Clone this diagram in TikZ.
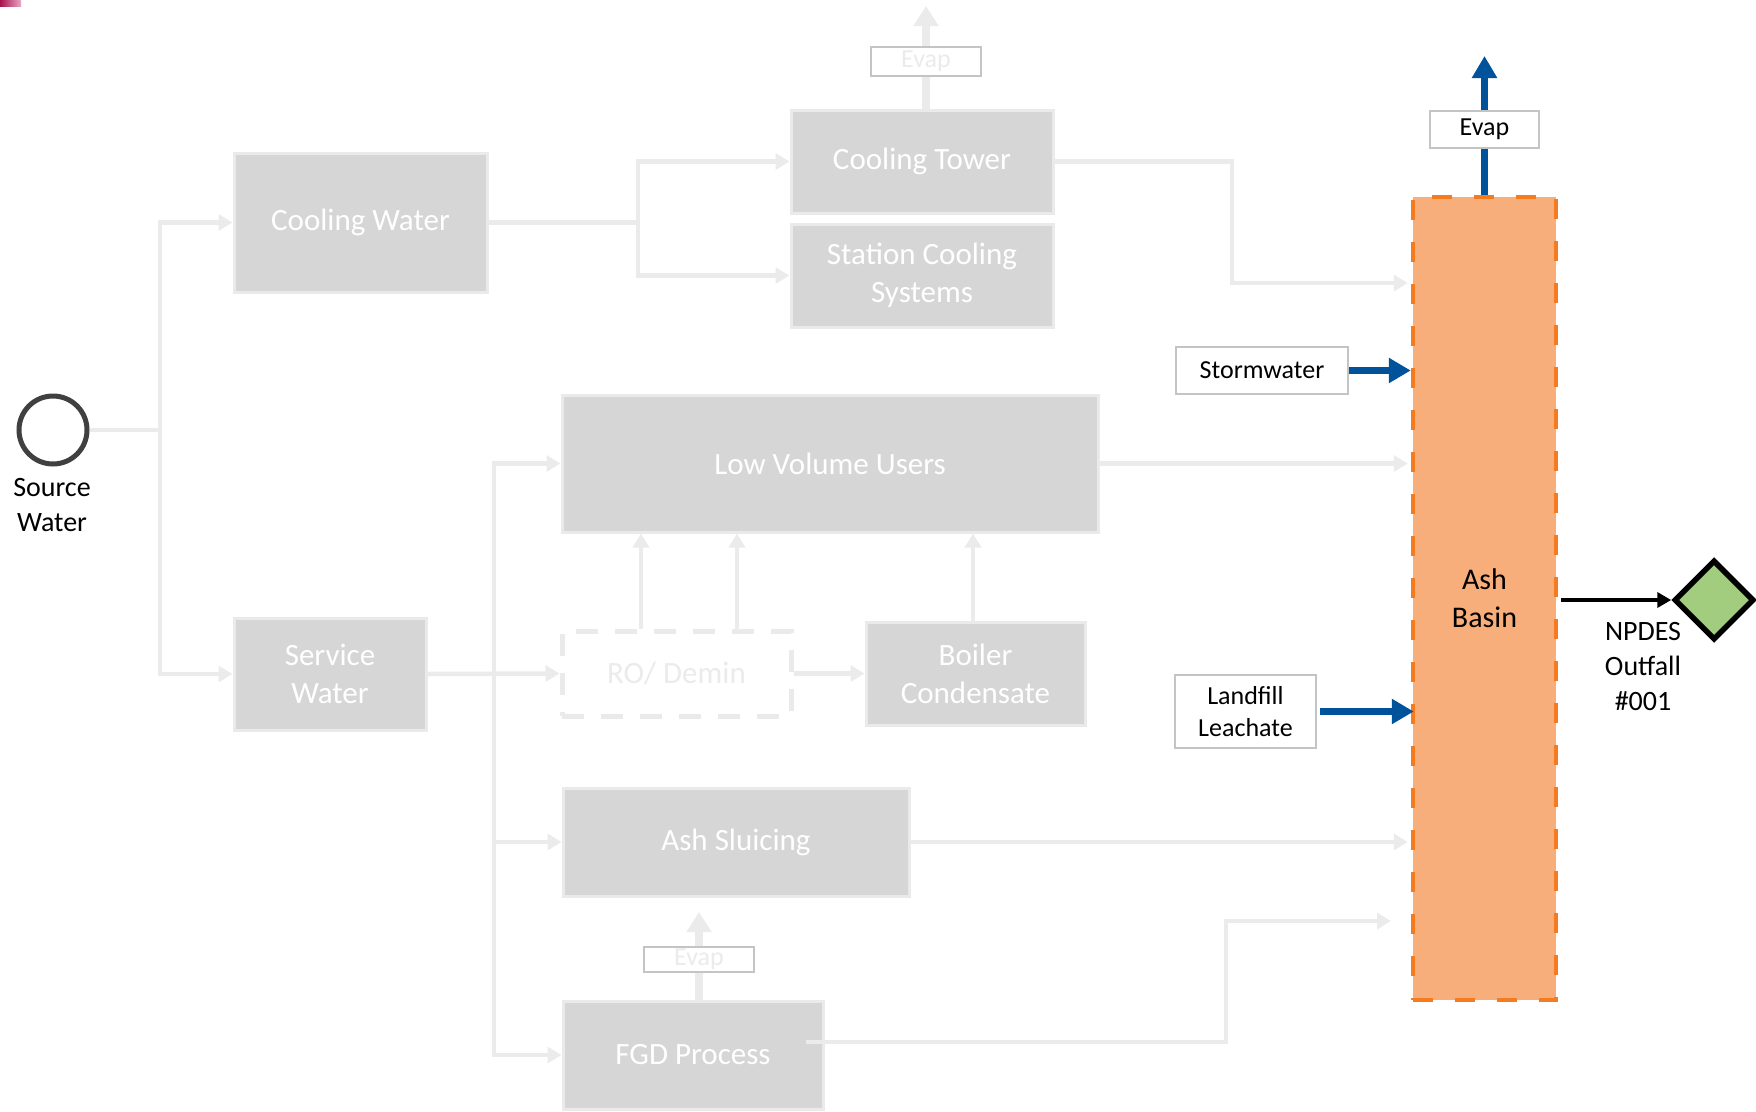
\documentclass[tikz,border=0pt]{standalone}
\usepackage{fontspec}
\setmainfont{Carlito}
\usetikzlibrary{arrows.meta,shapes.geometric,calc}
\definecolor{boxfill}{HTML}{D6D6D6}
\definecolor{boxedge}{HTML}{EAEAEA}
\definecolor{connc}{HTML}{EBEBEB}
\definecolor{lblgray}{HTML}{C4C4C4}
\definecolor{ashfill}{HTML}{F8AE7A}
\definecolor{ashedge}{HTML}{F47B20}
\definecolor{flowblue}{HTML}{00529B}
\definecolor{outgreen}{HTML}{A3CD7E}
\definecolor{srcgray}{HTML}{404040}
\definecolor{pinkdark}{HTML}{A8104E}
\definecolor{pinklight}{HTML}{E8A8C4}
\tikzset{
  procbox/.style={draw=boxedge, fill=boxfill, line width=3pt, text=white, align=center,
    inner sep=0pt, font=\fontsize{31}{38}\selectfont},
  conn/.style={draw=connc, line width=4.5pt, -{Triangle[length=14pt,width=16pt]}},
  connplain/.style={draw=connc, line width=4.5pt},
  evapconn/.style={draw=connc, line width=8pt, -{Triangle[length=20pt,width=24pt]}},
  fadelbl/.style={draw=lblgray, fill=white, line width=2pt, text=connc, inner sep=0pt,
    font=\fontsize{26}{30}\selectfont},
  lbl/.style={draw=lblgray, fill=white, line width=2pt, text=black, inner sep=0pt, align=center,
    font=\fontsize{26}{32}\selectfont},
  blueflow/.style={draw=flowblue, line width=7.5pt, -{Triangle[length=22pt,width=24pt]}},
}
\begin{document}
\begin{tikzpicture}[x=1pt,y=-1pt]
\useasboundingbox (0,0) rectangle (1756,1111);
\shade[left color=pinkdark, right color=pinklight] (0,0) rectangle (21,6);

% nodes
\node[draw=srcgray, line width=5pt, circle, minimum size=68pt, inner sep=0pt] (src) at (53,430) {};
\node[align=center, font=\fontsize{28}{35}\selectfont] (srclbl) at (52,505) {Source\\Water};

\node[procbox, minimum width=253pt, minimum height=139pt] (cw) at (360.5,222.5) {Cooling Water};
\node[procbox, minimum width=192pt, minimum height=112pt] (sw) at (330,674) {Service\\Water};
\node[procbox, minimum width=262pt, minimum height=103pt] (ct) at (922,161.5) {Cooling Tower};
\node[procbox, minimum width=262pt, minimum height=103pt] (scs) at (922,275.5) {Station Cooling\\Systems};
\node[procbox, minimum width=536pt, minimum height=137pt] (lvu) at (830,463.5) {Low Volume Users};
\node[draw=boxedge, fill=white, line width=5pt, dash pattern=on 22pt off 17pt, text=connc,
  inner sep=0pt, font=\fontsize{31}{38}\selectfont, minimum width=229pt, minimum height=85pt] (ro) at (676.5,673.5) {RO/ Demin};
\node[procbox, minimum width=219pt, minimum height=103pt] (bc) at (975.5,673.5) {Boiler\\Condensate};
\node[procbox, minimum width=346pt, minimum height=108pt] (asl) at (736,842) {Ash Sluicing};
\node[procbox, minimum width=260pt, minimum height=108pt] (fgd) at (693,1055) {FGD Process};

\node[draw=ashedge, fill=ashfill, line width=4.5pt, dash pattern=on 20pt off 22pt, align=center,
  inner sep=0pt, minimum width=143pt, minimum height=803pt, font=\fontsize{30}{38}\selectfont] (ash) at (1484.5,598.5) {Ash\\Basin};

\node[diamond, draw=black, fill=outgreen, line width=5.5pt, minimum width=80pt, minimum height=80pt, inner sep=0pt] (out) at (1714,600) {};
\node[align=center, font=\fontsize{28}{35}\selectfont] (outlbl) at (1643,667) {NPDES\\Outfall\\\#001};

% connectors (gray)
\coordinate (j1) at (160,430);
\draw[connplain] (src.east) -- (j1);
\draw[conn] (j1) |- (cw.west);
\draw[conn] (j1) |- (sw.west);

\coordinate (j2) at (638,222.5);
\draw[connplain] (cw.east) -- (j2);
\draw[conn] (j2) |- (ct.west);
\draw[conn] (j2) |- (scs.west);

\coordinate (k1) at (1232,161.5);
\coordinate (k2) at (1232,283);
\draw[conn, shorten >=3pt] (ct.east) -- (k1) -- (k2) -- (k2 -| ash.west);

\coordinate (j3) at (494,674);
\draw[conn] (sw.east) -- (ro.west);
\draw[conn] (j3) |- (lvu.west);
\draw[conn] (j3) |- (asl.west);
\draw[conn] (j3) |- (fgd.west);

\draw[conn] ([xshift=-35.5pt]ro.north) -- ([xshift=-35.5pt]ro.north |- lvu.south);
\draw[conn] ([xshift=60.5pt]ro.north) -- ([xshift=60.5pt]ro.north |- lvu.south);
\draw[conn] (ro.east) -- (bc.west);
\draw[conn] ([xshift=-2.5pt]bc.north) -- ([xshift=-2.5pt]bc.north |- lvu.south);

\draw[conn, shorten >=3pt] (lvu.east) -- (lvu.east -| ash.west);
\draw[conn, shorten >=3pt] (asl.east) -- (asl.east -| ash.west);

\coordinate (f0) at (806,1042);
\coordinate (f1) at (1226,1042);
\coordinate (f2) at (1226,921);
\coordinate (f3) at (1391,921);
\draw[conn] (f0) -- (f1) -- (f2) -- (f3);

% evap (faded)
\coordinate (e1top) at (926,6);
\draw[evapconn] (ct.north -| e1top) -- (e1top);
\node[fadelbl, minimum width=110pt, minimum height=29pt] (ev1) at (926,61.5) {Evap};

\coordinate (e3top) at (699,912);
\draw[evapconn] (fgd.north -| e3top) -- (e3top);
\node[fadelbl, minimum width=110pt, minimum height=25pt] (ev3) at (699,959.5) {Evap};

% blue flows
\coordinate (e2top) at (1484.5,56);
\draw[blueflow] (ash.north) -- (e2top);
\node[lbl, minimum width=109pt, minimum height=37pt] (ev2) at (1484.5,129.5) {Evap};

\node[lbl, minimum width=172pt, minimum height=47pt] (storm) at (1262,370.5) {Stormwater};
\draw[blueflow] (storm.east) -- (storm.east -| ash.west);

\node[lbl, minimum width=141pt, minimum height=73pt] (lf) at (1245.5,711.5) {Landfill\\Leachate};
\draw[blueflow] ([xshift=3pt]lf.east) -- ([xshift=3pt]lf.east -| ash.west);

\draw[draw=black, line width=4pt, -{Triangle[length=14pt,width=15pt]}] ([xshift=3pt]ash.east |- out.west) -- (out.west);
\end{tikzpicture}
\end{document}
